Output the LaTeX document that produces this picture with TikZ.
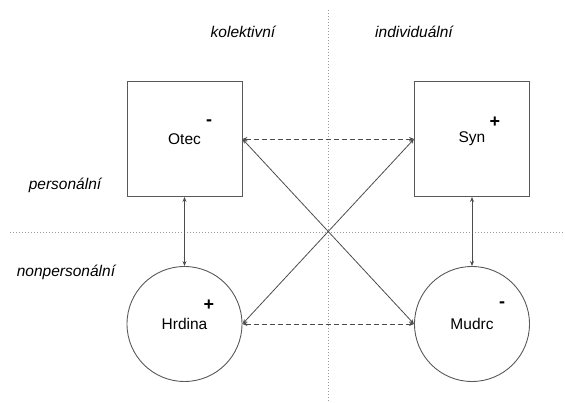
\documentclass[tikz,border=0pt]{standalone}
\usepackage{fontspec}
\setmainfont{Liberation Sans}
\usetikzlibrary{arrows.meta}

\begin{document}
\begin{tikzpicture}[x=1pt,y=-1pt]
\def\sz{115}
\def\txt{\fontsize{15.5}{18}\selectfont}
\tikzset{role box/.style={
	draw=black!65,
	line width=0.9pt,
	rectangle,
	minimum size=\sz,
	font=\txt
}}
\tikzset{role circle/.style={
	draw=black!65,
	line width=0.9pt,
	circle,
	minimum size=\sz,
	font=\txt
}}
\tikzset{sign/.style={font=\fontsize{18}{20}\selectfont\bfseries}}
\tikzset{axis label/.style={font=\txt\itshape}}
\tikzset{link/.style={draw=black!70,line width=0.8pt,{Stealth[length=5pt,width=4pt]}-{Stealth[length=5pt,width=4pt]}}}
\tikzset{dashed link/.style={link,dash pattern=on 5pt off 3pt}}
\tikzset{divider/.style={draw=black!40,line width=0.9pt,dash pattern=on 1pt off 2pt}}
\useasboundingbox (0,0) rectangle (565,403);
% divider lines
\coordinate (vtop) at (328,10);
\coordinate (vbot) at (328,403);
\coordinate (hleft) at (10,232);
\coordinate (hright) at (564,232);
\draw[divider] (vtop) -- (vbot);
\draw[divider] (hleft) -- (hright);
% axis labels
\node[axis label] (kol) at (243,32) {kolektivní};
\node[axis label] (ind) at (414,32) {individuální};
\node[axis label] (pers) at (65,185) {personální};
\node[axis label] (npers) at (66,272) {nonpersonální};
% four figures
\node[role box] (otec) at (184.5,139) {Otec};
\node[role box] (syn) at (472,139) {Syn};
\node[role circle] (hrdina) at (184.5,324) {Hrdina};
\node[role circle] (mudrc) at (472,324) {Mudrc};
\node[sign] (otecs) at (209,123) {-};
\node[sign] (syns) at (495,122) {+};
\node[sign] (hrdinas) at (209,305) {+};
\node[sign] (mudrcs) at (502,305) {-};
% connectors
\draw[dashed link] (otec.east) -- (syn.west);
\draw[dashed link] (hrdina.east) -- (mudrc.west);
\draw[link] (otec.south) -- (hrdina.north);
\draw[link] (syn.south) -- (mudrc.north);
\draw[link] (otec.east) -- (mudrc.west);
\draw[link] (hrdina.east) -- (syn.west);
\end{tikzpicture}
\end{document}
